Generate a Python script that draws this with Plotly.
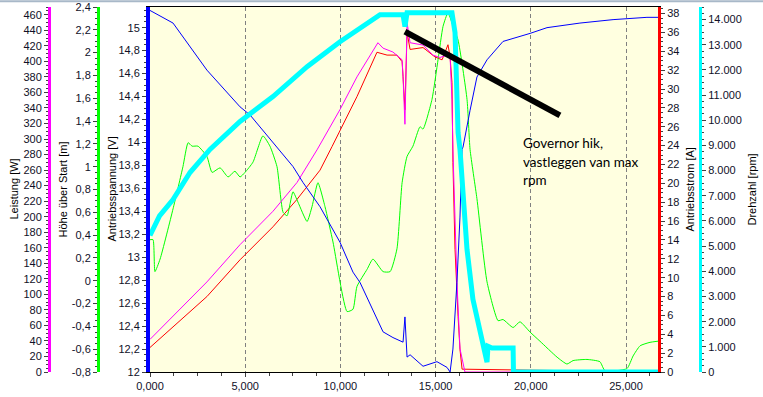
import plotly.graph_objects as go

# ---------------- data (time in seconds) ----------------
t_spannung = [0, 1.21, 2.99, 4.73, 5.25, 6.67, 7.51, 8.04, 8.93, 9.98, 10.66, 11.03, 11.92, 12.24,
              12.76, 13.29, 13.39, 13.50, 13.66, 14.34, 15.07, 15.60, 15.76, 15.91, 16.12, 16.28,
              16.39, 16.44, 16.81, 17.17, 17.70, 18.54, 19.96, 20.85, 22.58, 24.32, 26.10, 26.68]
spannung = [15.15, 15.04, 14.63, 14.31, 14.24, 13.96, 13.79, 13.65, 13.44, 13.13, 12.87, 12.78, 12.46, 12.35,
            12.30, 12.26, 12.48, 12.13, 12.15, 12.05, 12.09, 12.04, 12.00, 12.20, 12.78, 13.35,
            13.94, 13.96, 14.28, 14.57, 14.72, 14.88, 14.95, 15.00, 15.04, 15.07, 15.09, 15.09]

t_leistung = [0, 1.21, 2.99, 4.73, 6.46, 7.72, 8.77, 9.98, 10.87, 11.97, 12.24, 12.76, 13.24, 13.29,
              13.39, 13.50, 13.66, 14.34, 14.86, 15.23, 15.60, 15.76, 15.86, 15.91, 16.12, 16.28, 16.54, 26.68]
leistung = [42, 72, 116, 164, 207, 244, 286, 338, 380, 424, 417, 412, 402, 380,
            319, 450, 424, 421, 408, 405, 408, 406, 351, 286, 116, 30, 0, 0]

t_hoehe = [0, 0.16, 0.26, 0.53, 1.21, 1.73, 2.0, 2.21, 2.52, 2.99, 3.26, 3.68, 4.10, 4.46, 4.73, 4.99,
           5.41, 5.93, 6.30, 6.67, 6.99, 7.20, 7.51, 7.77, 8.25, 8.51, 8.82, 9.19, 9.61, 10.35, 10.66,
           10.87, 11.40, 11.71, 12.24, 12.61, 12.97, 13.24, 13.50, 13.81, 14.18, 14.34, 14.81, 15.13,
           15.39, 15.65, 15.86, 16.18, 16.65, 16.81, 17.17, 17.70, 18.28, 18.54, 19.07, 19.43, 19.96,
           20.48, 21.38, 21.90, 22.22, 22.95, 23.63, 23.90, 25.05, 25.37, 25.74, 26.26, 26.68]
hoehe = [0.36, 0.36, 0.08, 0.19, 0.63, 1.00, 1.21, 1.18, 1.18, 1.09, 0.95, 0.99, 0.91, 0.96, 0.91, 0.95,
         1.04, 1.27, 1.18, 1.00, 0.60, 0.57, 0.78, 0.69, 0.52, 0.65, 0.86, 0.65, 0.34, -0.27, -0.25,
         -0.05, 0.10, 0.19, 0.08, 0.08, 0.28, 0.86, 1.09, 1.18, 1.35, 1.33, 1.59, 1.94,
         2.23, 2.35, 2.26, 2.11, 1.59, 1.15, 0.72, -0.01, -0.35, -0.34, -0.41, -0.36, -0.45,
         -0.53, -0.67, -0.73, -0.70, -0.69, -0.71, -0.79, -0.77, -0.66, -0.57, -0.54, -0.53]

t_strom = [0, 1.21, 2.99, 4.73, 6.46, 7.72, 8.93, 9.56, 10.87, 11.92, 12.45, 12.97, 13.24, 13.29,
           13.39, 13.50, 13.66, 14.34, 14.97, 15.34, 15.65, 15.76, 15.86, 15.91, 16.02, 16.18, 16.28,
           16.39, 26.68]
strom = [2.6, 4.8, 8.0, 11.9, 15.4, 18.3, 21.4, 23.9, 29.2, 33.9, 33.6, 33.6, 32.9, 31.3,
         27.8, 36.0, 34.2, 34.4, 33.4, 33.1, 34.7, 33.4, 30.7, 22.2, 13.0, 5.9, 2.4,
         0.3, 0]

t_drehzahl = [0, 0.5, 1.21, 2.10, 3.15, 4.73, 6.46, 8.25, 9.98, 11.40, 12.08, 13.29, 13.39, 13.50, 15.60,
              15.86, 16.02, 16.12, 16.18, 16.28, 16.44, 16.65, 16.96, 17.33, 17.59, 17.70, 17.75,
              17.96, 19.07, 19.09, 26.68]
drehzahl = [5425, 6200, 6850, 7925, 8840, 9950, 10940, 12130, 13120, 13880, 14190, 14190, 13720, 14270, 14270,
            14270, 13480, 11500, 9510, 8840, 6850, 4870, 2890, 1690, 900, 390, 1020,
            950, 950, 0, 0]

# annotation line (time [s], current [A])
governor_t = [13.39, 21.53]
governor_a = [36.1, 27.2]

green_ticks = [-0.8, -0.6, -0.4, -0.2, 0, 0.2, 0.4, 0.6, 0.8, 1, 1.2, 1.4, 1.6, 1.8, 2, 2.2, 2.4]
green_labels = ["-0,8", "-0,6", "-0,4", "-0,2", "0", "0,2", "0,4", "0,6", "0,8", "1", "1,2", "1,4",
                "1,6", "1,8", "2", "2,2", "2,4"]

note_lines = ["Governor hik,", "vastleggen van max", "rpm"]

W, H = 763, 397
FONT = "Liberation Sans, Arial, sans-serif"
TICKC = "#404040"
LBLC = "#101028"

fig = go.Figure()
fig.add_trace(go.Scatter(x=t_strom, y=strom, yaxis="y", mode="lines",
                         line=dict(color="#FF0000", width=1)))
fig.add_trace(go.Scatter(x=t_hoehe, y=hoehe, yaxis="y2", mode="lines",
                         line=dict(color="#00FF00", width=1, shape="spline", smoothing=0.5)))
fig.add_trace(go.Scatter(x=t_leistung, y=leistung, yaxis="y3", mode="lines",
                         line=dict(color="#FF00FF", width=1)))
fig.add_trace(go.Scatter(x=t_spannung, y=spannung, yaxis="y4", mode="lines",
                         line=dict(color="#0000FF", width=1)))
fig.add_trace(go.Scatter(x=t_drehzahl, y=drehzahl, yaxis="y5", mode="lines",
                         line=dict(color="#00FFFF", width=5)))


def yax(color, rng, **kw):
    d = dict(range=rng, showline=True, linecolor=color, linewidth=3, ticks="outside",
             ticklen=4, tickcolor=TICKC, showgrid=False, zeroline=False, automargin=False,
             tickfont=dict(family=FONT, size=11, color=LBLC), fixedrange=True)
    d.update(kw)
    return d


fig.update_layout(
    width=W, height=H, autosize=False,
    margin=dict(l=0, r=0, t=7, b=25, autoexpand=False),
    paper_bgcolor="white", plot_bgcolor="#FFFFE0",
    showlegend=False, separators=",.",
    xaxis=dict(domain=[150 / W, 658 / W], range=[0, 26.68], tick0=0, dtick=5, tickformat=".3f",
               ticks="outside", ticklen=4, tickcolor=TICKC, showline=True, linecolor="black",
               linewidth=1, mirror=True, showgrid=True, gridcolor="#808080", gridwidth=1,
               griddash="4px,3px", zeroline=False, automargin=False, fixedrange=True,
               minor=dict(dtick=1.25, tick0=0, ticks="outside", ticklen=3, tickcolor=TICKC, showgrid=False),
               tickfont=dict(family=FONT, size=11, color=LBLC)),
    yaxis=yax("#FF0000", [0, 38.7], side="right", anchor="x", dtick=2,
              minor=dict(dtick=0.5, ticks="outside", ticklen=2, tickcolor=TICKC)),
    yaxis2=yax("#00FF00", [-0.8, 2.4], overlaying="y", anchor="free", position=98 / W, side="left",
               tickvals=green_ticks, ticktext=green_labels,
               minor=dict(dtick=0.05, tick0=0, ticks="outside", ticklen=2, tickcolor=TICKC)),
    yaxis3=yax("#FF00FF", [0, 470], overlaying="y", anchor="free", position=49 / W, side="left", dtick=20,
               minor=dict(dtick=5, ticks="outside", ticklen=2, tickcolor=TICKC)),
    yaxis4=yax("#0000FF", [12, 15.18], overlaying="y", anchor="x", side="left", dtick=0.2, tick0=12,
               linewidth=4,
               minor=dict(dtick=0.05, tick0=12, ticks="outside", ticklen=2, tickcolor=TICKC)),
    yaxis5=yax("#00FFFF", [0, 14500], overlaying="y", anchor="free", position=700 / W, side="right",
               dtick=1000, tickformat=",d",
               minor=dict(dtick=250, ticks="outside", ticklen=2, tickcolor=TICKC)),
)

fig.add_shape(type="line", xref="x", yref="y", x0=governor_t[0], y0=governor_a[0],
              x1=governor_t[1], y1=governor_a[1], line=dict(color="black", width=6), layer="above")
fig.add_shape(type="line", xref="paper", yref="paper", x0=0, x1=1, y0=1.016, y1=1.016,
              line=dict(color="#A8B8C8", width=2))

titles = [("Leistung [W]", 13), ("Höhe über Start [m]", 62), ("Antriebsspannung [V]", 111),
          ("Antriebsstrom [A]", 689), ("Drehzahl [rpm]", 751)]
for txt, px in titles:
    fig.add_annotation(text=txt, x=px / W, y=0.5, xref="paper", yref="paper", textangle=-90,
                       showarrow=False, xanchor="center", yanchor="middle",
                       font=dict(family=FONT, size=11, color="black"))

for i, line in enumerate(note_lines):
    fig.add_annotation(text=line, x=521 / W, y=(372 - (143 + 18.5 * i)) / 365,
                       xref="paper", yref="paper", showarrow=False, xanchor="left", yanchor="middle",
                       align="left", font=dict(family="Lato, sans-serif", size=13.5, color="black"))

fig.write_html("out.html", config={"responsive": False, "displayModeBar": False},
               post_script="document.body.style.margin='0';document.body.style.overflow='hidden';")
